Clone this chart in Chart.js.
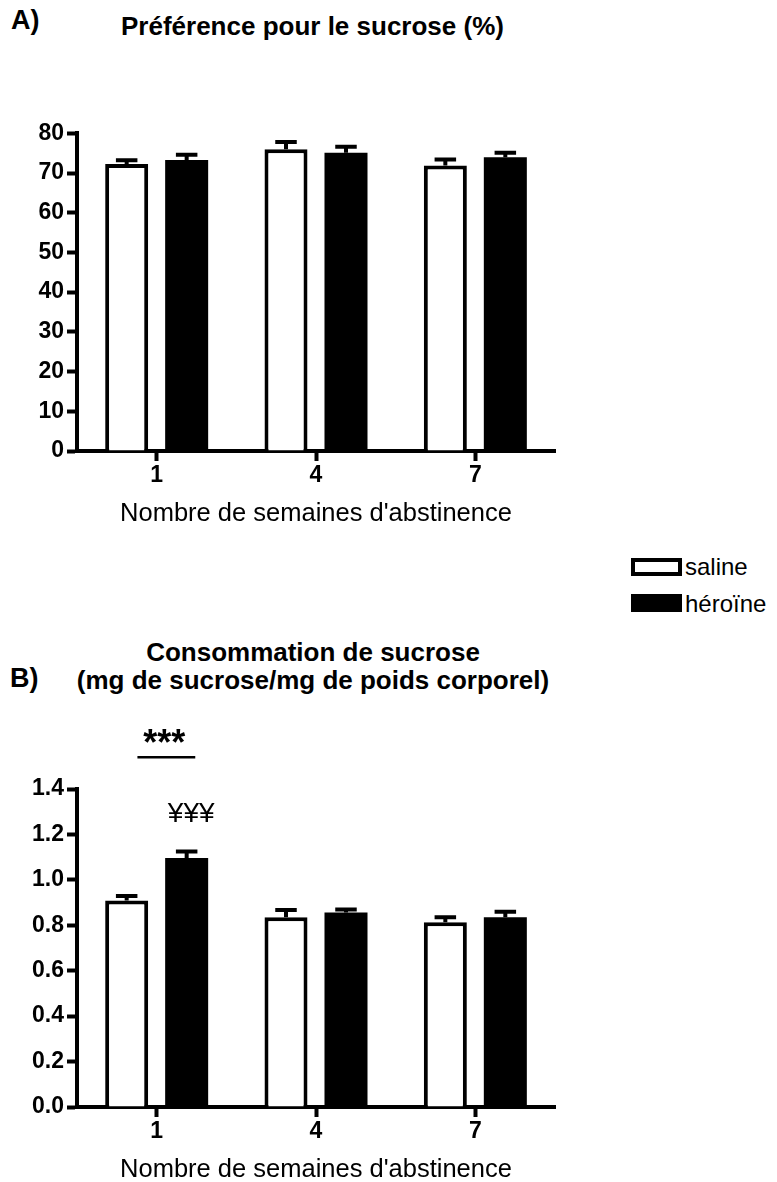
<!DOCTYPE html>
<html>
<head>
<meta charset="utf-8">
<script src="https://cdn.jsdelivr.net/npm/chart.js@4.4.0/dist/chart.umd.min.js"></script>
<style>
  html, body { margin: 0; padding: 0; background: #fff; overflow: hidden; }
  body { width: 777px; height: 1182px; position: relative; font-family: "Liberation Sans", Arial, sans-serif; color: #000; }
  .txt { position: absolute; white-space: nowrap; line-height: 1; }
  .panel { font-weight: bold; font-size: 27px; }
  .title { font-weight: bold; font-size: 26px; }
  canvas { position: absolute; left: 0; }
  .box { position: absolute; width: 43px; height: 10px; border: 4px solid #000; }
  .leg { font-size: 24px; }
</style>
</head>
<body>
  <div class="txt panel" style="left:11px; top:7px;">A)</div>
  <div class="txt title" style="left:121px; top:13px;">Préférence pour le sucrose (%)</div>
  <canvas id="prefChart" width="600" height="431" style="top:100px;"></canvas>

  <div class="box" style="left:631px; top:558px; background:#fff;"></div>
  <div class="txt leg" style="left:685px; top:554.5px;">saline</div>
  <div class="box" style="left:631px; top:594px; background:#000;"></div>
  <div class="txt leg" style="left:685px; top:591.5px;">héroïne</div>

  <div class="txt panel" style="left:10px; top:664.5px;">B)</div>
  <div class="txt title" style="left:63px; top:638px; width:500px; text-align:center; line-height:28px;">Consommation de sucrose<br>(mg de sucrose/mg de poids corporel)</div>
  <canvas id="consChart" width="600" height="487" style="top:700px;"></canvas>

<script>
// weeks of abstinence
const weeks = ["1", "4", "7"];

// A) sucrose preference (%), mean and SEM
const prefSaline = [72.3, 76.0, 71.9];
const prefSalineSem = [0.9, 1.8, 1.5];
const prefHeroin = [73.3, 75.1, 74.0];
const prefHeroinSem = [1.3, 1.5, 1.1];

// B) sucrose intake (mg sucrose / mg body weight), mean and SEM
const consSaline = [0.909, 0.835, 0.813];
const consSalineSem = [0.020, 0.032, 0.022];
const consHeroin = [1.096, 0.856, 0.835];
const consHeroinSem = [0.029, 0.014, 0.025];

// significance marks on panel B (week 1)
const sigWeek = 0;
const sigLineAt = 1.54;
const sigYenAt = 1.253;

const fontFamily = '"Liberation Sans", Arial, sans-serif';
Chart.defaults.font.family = fontFamily;
Chart.defaults.color = "#000";

// error bars: upward only, cap = half the bar width
const errorBars = {
  id: "errorBars",
  afterDatasetsDraw(chart) {
    const ctx = chart.ctx;
    const y = chart.scales.y;
    chart.data.datasets.forEach((ds, i) => {
      chart.getDatasetMeta(i).data.forEach((bar, j) => {
        const top = y.getPixelForValue(ds.data[j] + ds.sem[j]);
        const half = bar.width / 4;
        ctx.save();
        ctx.strokeStyle = "#000";
        ctx.lineWidth = 4;
        ctx.beginPath();
        ctx.moveTo(bar.x, bar.y);
        ctx.lineTo(bar.x, top);
        ctx.moveTo(bar.x - half, top);
        ctx.lineTo(bar.x + half, top);
        ctx.stroke();
        ctx.restore();
      });
    });
  }
};

const sigMarks = {
  id: "sigMarks",
  afterDatasetsDraw(chart, args, opts) {
    if (!opts.show) return;
    const ctx = chart.ctx;
    const y = chart.scales.y;
    const s = chart.getDatasetMeta(0).data[opts.index];
    const h = chart.getDatasetMeta(1).data[opts.index];
    const ly = y.getPixelForValue(opts.lineAt);
    const x0 = s.x + s.width / 4;
    const x1 = h.x + h.width / 5;
    ctx.save();
    ctx.strokeStyle = "#000";
    ctx.lineWidth = 2.5;
    ctx.beginPath();
    ctx.moveTo(x0, ly);
    ctx.lineTo(x1, ly);
    ctx.stroke();
    ctx.fillStyle = "#000";
    ctx.textAlign = "center";
    ctx.textBaseline = "alphabetic";
    ctx.font = "bold 36px " + fontFamily;
    ctx.fillText("***", (x0 + x1) / 2 - 2, ly - 2);
    ctx.font = "28px " + fontFamily;
    ctx.fillText("¥¥¥", h.x + 4.5, y.getPixelForValue(opts.yenAt));
    ctx.restore();
  }
};

function makeChart(id, saline, salineSem, heroin, heroinSem, yMax, yStep, decimals, padTop, sig) {
  const ctx = document.getElementById(id).getContext("2d");
  return new Chart(ctx, {
    type: "bar",
    data: {
      labels: weeks,
      datasets: [
        { label: "saline", data: saline, sem: salineSem, backgroundColor: "#fff", borderColor: "#000", borderWidth: 4 },
        { label: "héroïne", data: heroin, sem: heroinSem, backgroundColor: "#000", borderColor: "#000", borderWidth: 0 }
      ]
    },
    options: {
      responsive: false,
      animation: false,
      categoryPercentage: 0.753,
      barPercentage: 0.717,
      layout: { padding: { top: padTop, right: 45, left: 0, bottom: 0 } },
      plugins: {
        legend: { display: false },
        tooltip: { enabled: false },
        sigMarks: sig
      },
      scales: {
        x: {
          offset: true,
          grid: { display: true, drawOnChartArea: false, drawTicks: true, tickLength: 10, tickWidth: 4, tickColor: "#000", offset: false },
          border: { display: true, color: "#000", width: 4 },
          ticks: { color: "#000", font: { size: 23, weight: "bold" }, padding: 1, maxRotation: 0 },
          title: { display: true, text: "Nombre de semaines d'abstinence", color: "#000", font: { size: 25.5 }, padding: { top: 0, bottom: 2 } },
          afterFit(scale) { scale.height = 80; }
        },
        y: {
          min: 0,
          max: yMax,
          grid: { display: true, drawOnChartArea: false, drawTicks: true, tickLength: 10, tickWidth: 4, tickColor: "#000" },
          border: { display: true, color: "#000", width: 4 },
          ticks: { stepSize: yStep, color: "#000", font: { size: 23, weight: "bold" }, padding: 3, callback: v => v.toFixed(decimals) },
          afterFit(scale) { scale.width = 77; }
        }
      }
    },
    plugins: [errorBars, sigMarks]
  });
}

makeChart("prefChart", prefSaline, prefSalineSem, prefHeroin, prefHeroinSem, 80, 10, 0, 33.3, { show: false });
makeChart("consChart", consSaline, consSalineSem, consHeroin, consHeroinSem, 1.4, 0.2, 1, 89,
  { show: true, index: sigWeek, lineAt: sigLineAt, yenAt: sigYenAt });
</script>
</body>
</html>
